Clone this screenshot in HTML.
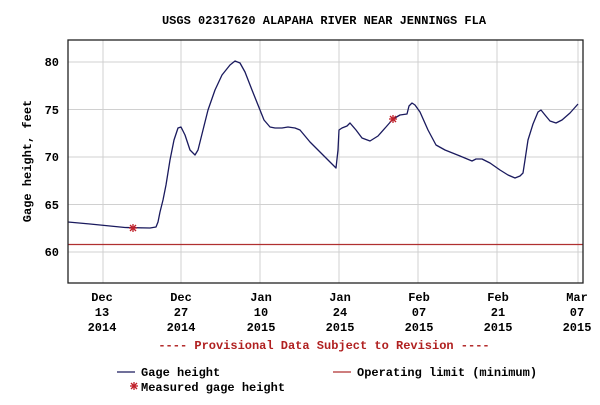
<!DOCTYPE html>
<html><head><meta charset="utf-8"><style>
body{margin:0;background:#fff;}
svg text{font-family:"Liberation Mono","DejaVu Sans Mono",monospace;font-weight:bold;font-size:12px;fill:#000;}
</style></head><body>
<svg width="600" height="400" viewBox="0 0 600 400" xmlns="http://www.w3.org/2000/svg">
<rect width="600" height="400" fill="#fff"/>
<text x="324" y="24" text-anchor="middle">USGS 02317620 ALAPAHA RIVER NEAR JENNINGS FLA</text>
<g stroke="#d0d0d0" stroke-width="1">
<line x1="68" x2="583" y1="62" y2="62"/><line x1="68" x2="583" y1="109.5" y2="109.5"/>
<line x1="68" x2="583" y1="157" y2="157"/><line x1="68" x2="583" y1="204.5" y2="204.5"/>
<line x1="68" x2="583" y1="252" y2="252"/>
<line x1="103" x2="103" y1="40" y2="283"/><line x1="181" x2="181" y1="40" y2="283"/>
<line x1="260" x2="260" y1="40" y2="283"/><line x1="339" x2="339" y1="40" y2="283"/>
<line x1="418" x2="418" y1="40" y2="283"/><line x1="497" x2="497" y1="40" y2="283"/>
<line x1="578" x2="578" y1="40" y2="283"/>
</g>
<line x1="68" x2="583" y1="244.5" y2="244.5" stroke="#b03030" stroke-width="1.2"/>
<polyline fill="none" stroke="#1a1a5e" stroke-width="1.3" stroke-linejoin="round" points="68,222 90,224 110,226 125,227.5 150,228 156,227 158,222 160,212 163,200 166,185 170,160 174,140 178,128 181,127 185,135 190,150 195,155 198,150 203,130 208,110 215,90 222,75 230,65 235,61 240,63 245,72 252,90 258,105 264,120 270,127 275,128 282,128 288,127 295,128 300,130 310,142 320,152 330,162 336,168 338,150 339,130 342,128 347,126 350,123 356,130 362,138 370,141 378,136 386,127 393,119 400,115 407,114 409,106 412,103 415,105 420,112 428,130 436,145 445,150 460,156 472,161 476,159 482,159 490,163 500,170 508,175 515,178 520,176 523,173 525,160 528,140 533,124 538,112 541,110 545,115 550,121 556,123 562,120 570,113 578,104"/>
<g stroke="#c0202a" stroke-width="1.3">
<line x1="129" x2="137" y1="228" y2="228"/><line x1="133" x2="133" y1="224" y2="232"/>
<line x1="130" x2="136" y1="225" y2="231"/><line x1="130" x2="136" y1="231" y2="225"/>
<line x1="389" x2="397" y1="119" y2="119"/><line x1="393" x2="393" y1="115" y2="123"/>
<line x1="390" x2="396" y1="116" y2="122"/><line x1="390" x2="396" y1="122" y2="116"/>
</g>
<rect x="68" y="40" width="515" height="243" fill="none" stroke="#222" stroke-width="1.3"/>
<g text-anchor="end">
<text x="59" y="66">80</text><text x="59" y="114">75</text><text x="59" y="161">70</text>
<text x="59" y="209">65</text><text x="59" y="256">60</text>
</g>
<text transform="translate(31,161) rotate(-90)" text-anchor="middle">Gage height, feet</text>
<g text-anchor="middle">
<text x="102" y="301">Dec</text><text x="102" y="316">13</text><text x="102" y="331">2014</text>
<text x="181" y="301">Dec</text><text x="181" y="316">27</text><text x="181" y="331">2014</text>
<text x="261" y="301">Jan</text><text x="261" y="316">10</text><text x="261" y="331">2015</text>
<text x="340" y="301">Jan</text><text x="340" y="316">24</text><text x="340" y="331">2015</text>
<text x="419" y="301">Feb</text><text x="419" y="316">07</text><text x="419" y="331">2015</text>
<text x="498" y="301">Feb</text><text x="498" y="316">21</text><text x="498" y="331">2015</text>
<text x="577" y="301">Mar</text><text x="577" y="316">07</text><text x="577" y="331">2015</text>
<text x="324" y="349" style="fill:#b02020">---- Provisional Data Subject to Revision ----</text>
</g>
<line x1="117" x2="135" y1="372" y2="372" stroke="#1a1a5e" stroke-width="1.2"/>
<text x="141" y="376">Gage height</text>
<line x1="333" x2="351" y1="372" y2="372" stroke="#b03030" stroke-width="1.2"/>
<text x="357" y="376">Operating limit (minimum)</text>
<g stroke="#c0202a" stroke-width="1.3">
<line x1="130" x2="138" y1="386" y2="386"/><line x1="134" x2="134" y1="382" y2="390"/>
<line x1="131" x2="137" y1="383" y2="389"/><line x1="131" x2="137" y1="389" y2="383"/>
</g>
<text x="141" y="391">Measured gage height</text>
</svg>
</body></html>
